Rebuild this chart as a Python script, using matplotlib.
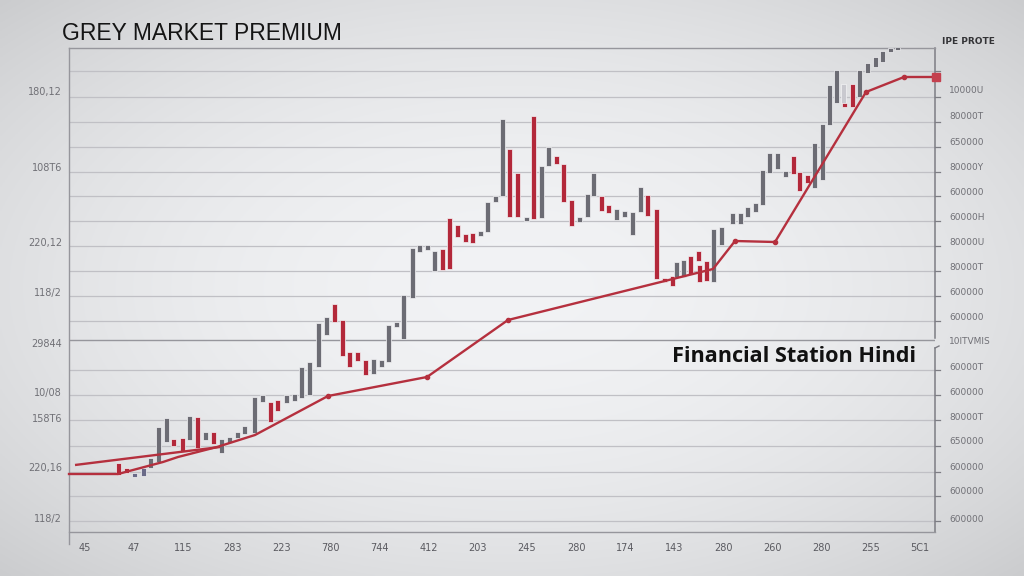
import numpy as np
import matplotlib
matplotlib.use("Agg")
import matplotlib.pyplot as plt

############ data ############
# x = trading session position, y = premium level (chart units)

candle_x = [49, 57, 65, 74, 81, 89, 97, 104, 113, 120, 128, 136, 144, 152, 160, 168, 175,
            185, 193, 201, 208, 217, 225, 232, 240, 249, 257, 265, 273, 280, 288, 296, 304,
            312, 319, 327, 334, 343, 350, 358, 365, 373, 380, 388, 396, 403, 411, 418, 426,
            433, 440, 448, 457, 464, 472, 479, 487, 494, 502, 510, 518, 524, 532, 539, 547,
            555, 563, 571, 578, 587, 595, 603, 607, 614, 621, 629, 630, 637, 644, 652, 663,
            671, 678, 686, 693, 700, 708, 716, 724, 730, 738, 745, 753, 760, 767, 774, 775,
            783, 790, 798, 806, 813, 821, 828]
candle_hi = [69, 64, 59, 64, 74, 105, 114, 93, 94, 116, 115, 100, 100, 93, 95, 100, 106,
             135, 137, 130, 132, 137, 138, 165, 170, 209, 215, 228, 212, 180, 180, 172, 173,
             172, 207, 210, 237, 284, 287, 287, 281, 283, 314, 307, 298, 299, 301, 330, 336,
             413, 383, 359, 315, 416, 366, 385, 376, 368, 332, 315, 338, 359, 336, 327, 323,
             321, 320, 345, 337, 323, 254, 256, 270, 272, 276, 281, 267, 271, 303, 305, 319,
             319, 325, 329, 362, 379, 379, 361, 376, 360, 357, 389, 408, 447, 462, 448, 429,
             448, 462, 469, 475, 481, 484, 485]
candle_lo = [57, 59, 55, 56, 64, 70, 90, 86, 80, 92, 84, 92, 88, 79, 89, 94, 98,
             99, 130, 110, 121, 129, 131, 134, 137, 165, 197, 210, 176, 165, 171, 157, 158,
             165, 170, 205, 193, 234, 280, 282, 261, 262, 263, 295, 290, 289, 296, 300, 330,
             336, 315, 315, 311, 313, 314, 366, 368, 330, 306, 310, 315, 336, 321, 319, 312,
             315, 297, 320, 316, 253, 250, 246, 255, 255, 258, 271, 250, 251, 250, 287, 308,
             308, 315, 320, 327, 359, 363, 355, 358, 341, 349, 344, 352, 407, 429, 429, 425,
             425, 435, 459, 465, 470, 480, 482]
candle_kind = ['r', 'r', 'p', 'p', 'g', 'g', 'g', 'r', 'r', 'g', 'r', 'g', 'r', 'g', 'g', 'g', 'g',
               'g', 'g', 'r', 'r', 'g', 'g', 'g', 'g', 'g', 'g', 'r', 'r', 'r', 'r', 'r', 'g',
               'g', 'g', 'g', 'g', 'g', 'g', 'g', 'g', 'r', 'r', 'r', 'r', 'r', 'g', 'g', 'g',
               'g', 'r', 'r', 'g', 'r', 'g', 'g', 'r', 'r', 'r', 'g', 'g', 'g', 'r', 'r', 'g',
               'g', 'g', 'g', 'r', 'r', 'r', 'r', 'g', 'g', 'r', 'r', 'r', 'r', 'g', 'g', 'g',
               'g', 'g', 'g', 'g', 'g', 'g', 'g', 'r', 'r', 'r', 'g', 'g', 'g', 'g', 'l', 'r',
               'r', 'g', 'g', 'g', 'g', 'g', 'g']

trend_x = [0, 49, 94, 109, 148, 186, 259, 358, 439, 644, 666, 706, 797, 835, 866]
trend_y = [58, 58, 70, 75, 85, 97, 136, 155, 212, 263, 291, 290, 440, 455, 455]
trend_marks = [6, 7, 8, 10, 11, 12, 13]      # vertices drawn with a dot
upper_x = [6, 151]
upper_y = [67, 85]

grid_y = [461, 435, 410, 385, 360, 336, 311, 286, 261, 236, 211, 162, 137, 112, 86, 60, 36, 11]
split_y = 192

left_ticks = [441, 365, 290, 240, 189, 140, 114, 65, 14]
left_labels = ['180,12', '108T6', '220,12', '118/2', '29844', '10/08', '158T6', '220,16', '118/2']

right_ticks = [443, 417, 391, 366, 341, 316, 291, 266, 241, 216, 192, 166, 141, 116, 91, 66, 41, 14]
right_labels = ['10000U', '80000T', '650000', '80000Y', '600000', '60000H', '80000U', '80000T',
                '600000', '600000', '10ITVMIS', '60000T', '600000', '80000T', '650000', '600000',
                '600000', '600000']

bottom_ticks = [16 + 49.1 * k for k in range(18)]
bottom_labels = ['45', '47', '115', '283', '223', '780', '744', '412', '203', '245', '280',
                 '174', '143', '280', '260', '280', '255', '5C1']

colors = {'g': '#6c6c74', 'r': '#b3283a', 'p': '#6a6a88', 'l': '#c9c9cf'}
RED = '#b5303e'

############ figure ############
fig = plt.figure(figsize=(10.24, 5.76), dpi=100)

# soft radial background
bg = fig.add_axes([0, 0, 1, 1], zorder=-5)
xx, yy = np.meshgrid(np.linspace(-1, 1, 400), np.linspace(-1, 1, 240))
r = np.sqrt(xx ** 2 + yy ** 2)
shade = np.clip(0.955 - 0.075 * r ** 2, 0, 1)
bg.imshow(np.dstack([shade - 0.008, shade - 0.004, shade + 0.004]).clip(0, 1),
          aspect='auto', extent=[0, 1, 0, 1])
bg.axis('off')

W, H = 1024, 576
ax = fig.add_axes([69 / W, (H - 532) / H, (935 - 69) / W, (532 - 48) / H])
ax.set_facecolor('none')
ax.set_xlim(0, 866)
ax.set_ylim(0, 484)

for s in ['left', 'bottom', 'top']:
    ax.spines[s].set_color('#96969c')
    ax.spines[s].set_linewidth(1.0)
ax.spines['right'].set_visible(False)
ax.spines['left'].set_bounds(-12, 484)

for g in grid_y:
    ax.axhline(g, color='#c0c0c5', lw=0.9, zorder=1)
ax.axhline(split_y, color='#96969c', lw=1.0, zorder=1)

# right frame in two parts with small ticks
ax.plot([866, 866], [194, 484], color='#7d7d84', lw=1.1, clip_on=False)
ax.plot([866, 866], [0, 184], color='#7d7d84', lw=1.1, clip_on=False)
ax.plot([866, 870], [184, 186], color='#7d7d84', lw=1.0, clip_on=False)
for g in grid_y:
    ax.plot([866, 871], [g, g], color='#7d7d84', lw=0.9, clip_on=False)

# candles
for x, hi, lo, k in zip(candle_x, candle_hi, candle_lo, candle_kind):
    h = max(hi - lo, 4)
    ax.bar(x, h, bottom=lo, width=5.0, color=colors[k], zorder=3,
           edgecolor='#f4f4f6', linewidth=0.5)

# trend lines
ax.plot(upper_x, upper_y, color=RED, lw=1.7, zorder=4, solid_capstyle='butt')
ax.plot(trend_x, trend_y, color=RED, lw=1.7, zorder=4, clip_on=False)
ax.plot([trend_x[i] for i in trend_marks], [trend_y[i] for i in trend_marks], 'o',
        color=RED, ms=3, zorder=5)
ax.plot(trend_x[-1] + 1, trend_y[-1], 's', color='#c4404e', ms=6, zorder=5, clip_on=False)

# ticks and labels
ax.set_yticks(left_ticks)
ax.set_yticklabels(left_labels, fontsize=7, color='#707076')
ax.set_xticks(bottom_ticks)
ax.set_xticklabels(bottom_labels, fontsize=7, color='#5a5a60')
ax.tick_params(axis='both', length=0, pad=5)
ax.tick_params(axis='x', pad=8)

ax2 = ax.twinx()
ax2.set_ylim(0, 484)
ax2.set_yticks(right_ticks)
ax2.set_yticklabels(right_labels, fontsize=6.5, color='#707076')
ax2.tick_params(axis='y', length=0, pad=10)
for s in ax2.spines.values():
    s.set_visible(False)

fig.text(62 / W, 1 - 33 / H, 'GREY MARKET PREMIUM', fontsize=16.5, family='Liberation Sans',
         color='#151515', va='center', ha='left')
fig.text(942 / W, 1 - 41 / H, 'IPE PROTE', fontsize=6.5, fontweight='bold', color='#333336',
         va='center', ha='left')
fig.text(672 / W, 1 - 356 / H, 'Financial Station Hindi', fontsize=15.6, family='Open Sans',
         fontweight='bold', color='#111111', va='center', ha='left')

plt.savefig('out.png', dpi=100)
